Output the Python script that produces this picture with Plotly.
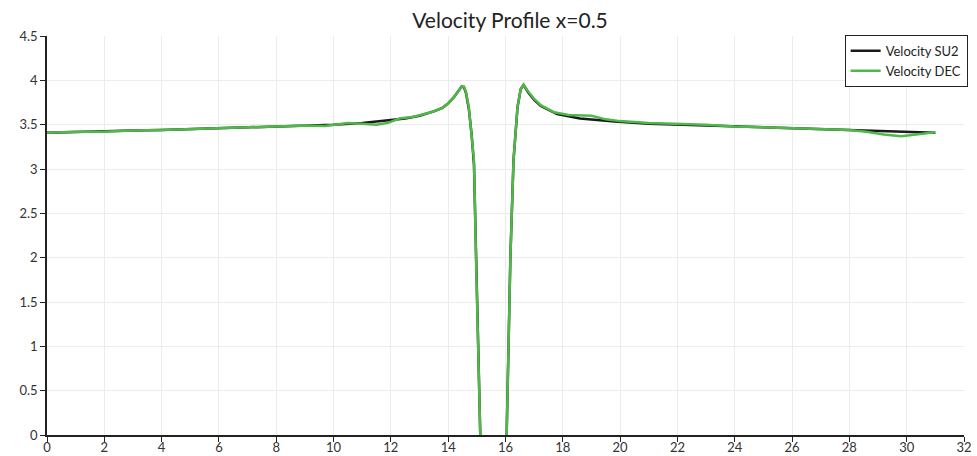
import plotly.graph_objects as go

# Velocity magnitude sampled along the vertical line x=0.5
# (None separates the two halves of the profile across the solid region)
su2_x = [0, 1, 2, 3, 4, 5, 6, 7, 8, 9, 10, 11, 12, 12.5, 13, 13.5, 13.8, 14.0, 14.2,
         14.35, 14.47, 14.55, 14.62, 14.72, 14.82, 14.9, 14.97, 15.05, 15.12, None,
         16.04, 16.1, 16.17, 16.28, 16.42, 16.53, 16.63, 16.8, 17.0, 17.23,
         17.8, 18.6, 19.8, 21, 22, 23, 24, 25, 26, 27, 28, 29, 30, 31]
su2_y = [3.41, 3.42, 3.43, 3.435, 3.44, 3.45, 3.46, 3.47, 3.48, 3.49, 3.50, 3.52, 3.55, 3.57,
         3.60, 3.65, 3.69, 3.74, 3.81, 3.88, 3.93, 3.92, 3.86, 3.68, 3.38, 3.05, 2.0, 1.0, 0.0, None,
         0.0, 1.0, 2.0, 3.1, 3.7, 3.9, 3.95, 3.86, 3.78, 3.71,
         3.62, 3.57, 3.535, 3.51, 3.50, 3.49, 3.48, 3.47, 3.46, 3.45, 3.44, 3.43, 3.42, 3.41]

dec_x = [0, 1, 1.9, 3, 4, 5, 6, 7, 8, 9, 9.7, 10.1, 10.5, 11.0, 11.5, 11.9, 12.3, 12.8,
         13.4, 13.8, 14.0, 14.2, 14.35, 14.47, 14.55, 14.62, 14.72, 14.82, 14.9,
         14.97, 15.05, 15.12, None,
         16.04, 16.1, 16.17, 16.28, 16.42, 16.53, 16.63, 16.8, 17.0, 17.23,
         17.7, 18.2, 19.0, 19.5, 20, 21, 22, 23, 24, 25, 26, 27, 28, 28.6, 29.2, 29.8,
         30.4, 31]
dec_y = [3.41, 3.42, 3.42, 3.435, 3.44, 3.45, 3.46, 3.47, 3.48, 3.49, 3.485, 3.505, 3.52,
         3.51, 3.50, 3.52, 3.57, 3.59, 3.64, 3.69, 3.74, 3.81, 3.88, 3.93, 3.93, 3.87,
         3.70, 3.40, 3.1, 2.0, 1.0, 0.0, None,
         0.0, 1.0, 2.0, 3.1, 3.7, 3.9, 3.95, 3.87, 3.79, 3.72,
         3.64, 3.61, 3.60, 3.56, 3.54, 3.52, 3.51, 3.50, 3.48, 3.47, 3.455, 3.445,
         3.44, 3.42, 3.39, 3.37, 3.39, 3.415]

x_ticks = list(range(0, 33, 2))
y_ticks = [0, 0.5, 1, 1.5, 2, 2.5, 3, 3.5, 4, 4.5]

FONT = "Lato, 'Open Sans', sans-serif"

fig = go.Figure()
fig.add_trace(go.Scatter(x=su2_x, y=su2_y, mode="lines", name="Velocity SU2",
                         connectgaps=False, line=dict(color="#1a1a1a", width=2.5)))
fig.add_trace(go.Scatter(x=dec_x, y=dec_y, mode="lines", name="Velocity DEC",
                         connectgaps=False, line=dict(color="#4fb848", width=2.5)))

axis_common = dict(
    showline=True, linecolor="#222222", linewidth=1.5,
    ticks="outside", ticklen=5, tickcolor="#222222", tickwidth=1,
    showgrid=True, gridcolor="#ececec", gridwidth=1,
    zeroline=False, automargin=False,
    tickfont=dict(family=FONT, size=13, color="#333333"),
)

fig.update_layout(
    width=977, height=456,
    margin=dict(l=47, r=9, t=36, b=21),
    paper_bgcolor="white", plot_bgcolor="white",
    title=dict(text="Velocity Profile x=0.5", x=0.522, xanchor="center", y=0.955,
               yanchor="middle", automargin=False,
               font=dict(family=FONT, size=21, color="#222222")),
    xaxis=dict(range=[0, 32], tickvals=x_ticks, ticklabelstandoff=-5, **axis_common),
    yaxis=dict(range=[0, 4.5], tickvals=y_ticks, **axis_common),
    legend=dict(x=1.004, xanchor="right", y=1.003, yanchor="top",
                bgcolor="white", bordercolor="#222222", borderwidth=1,
                font=dict(family=FONT, size=13, color="#222222"),
                tracegroupgap=0, itemwidth=30),
    showlegend=True,
)

fig.write_html("out.html")
